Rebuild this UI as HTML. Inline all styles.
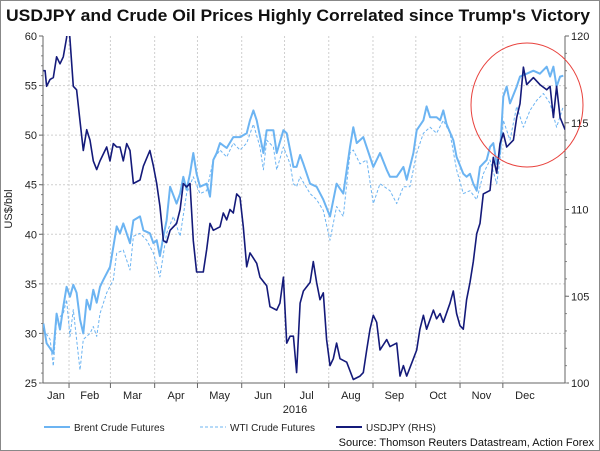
<!DOCTYPE html>
<html><head><meta charset="utf-8"><style>
body{margin:0;background:#fff;}
svg{display:block;font-family:"Liberation Sans",Arial,sans-serif;}
</style></head><body>
<svg width="600" height="451" viewBox="0 0 600 451">
<rect x="0.5" y="0.5" width="599" height="450" fill="#fff" stroke="#888"/>
<text x="6" y="21" font-size="17" font-weight="bold" fill="#111" textLength="584" lengthAdjust="spacingAndGlyphs">USDJPY and Crude Oil Prices Highly Correlated since Trump's Victory</text>
<g id="grid"></g>
<g id="axes"></g>
<defs><clipPath id="pc"><rect x="43" y="36" width="522" height="347"/></clipPath></defs>
<g id="series" clip-path="url(#pc)"></g>
<ellipse cx="527" cy="105" rx="56" ry="62" fill="none" stroke="#e8413c" stroke-width="1"/>
<text x="295" y="413" font-size="11" text-anchor="middle" fill="#222">2016</text>
<text transform="translate(12,209) rotate(-90)" font-size="11" text-anchor="middle" fill="#222">US$/bbl</text>
<g>
<g><line x1="44" y1="427" x2="70" y2="427" stroke="#6cb4f2" stroke-width="2"/><text x="74" y="431" font-size="10" fill="#222">Brent Crude Futures</text></g>
<g><line x1="200" y1="427" x2="226" y2="427" stroke="#6cb4f2" stroke-width="1" stroke-dasharray="3,2"/><text x="230" y="431" font-size="10" fill="#222">WTI Crude Futures</text></g>
<g><line x1="336" y1="427" x2="362" y2="427" stroke="#141a7a" stroke-width="2"/><text x="366" y="431" font-size="10" fill="#222">USDJPY (RHS)</text></g>
</g>
<text x="594" y="446" font-size="11" text-anchor="end" fill="#111">Source: Thomson Reuters Datastream, Action Forex</text>
</svg>
<script>
const months=["Jan","Feb","Mar","Apr","May","Jun","Jul","Aug","Sep","Oct","Nov","Dec"];
const monthStartDays=[0,31,60,91,121,152,182,213,244,274,305,335,366];
const leftTicks=[25,30,35,40,45,50,55,60];
const rightTicks=[100,105,110,115,120];
const brentDays=[13,15.3,17.7,20,22.3,24.7,27,29.3,31.7,34,36.3,38.7,41,43.4,45.7,48,50.4,52.7,55,59.7,64.4,66.7,69,73.7,76.1,80.7,83.1,87.7,90.1,92.4,94.7,97.1,99.4,101.8,106.4,108.8,111.1,113.4,115.8,118.1,120.4,122.8,127.5,129.8,132.1,134.5,136.8,141.5,146.1,150.8,155.5,157.8,160.2,162.5,167.2,169.5,174.2,176.5,181.2,183.5,185.9,188.2,190.5,192.9,195.2,199.9,204.5,209.2,213.9,218.5,223.2,227.9,230.2,232.6,237.2,241.9,244.2,248.9,253.6,255.9,260.6,265.3,267.6,272.3,274.6,279.3,281.6,284,288.6,291,293.3,295.6,300.3,302.6,307.3,309.6,312,314.3,316.7,319,323.7,326,328.3,330.7,333,335.3,337.7,340,344.7,347,351.7,356.4,361,365.7,368.1,370.4,372.7,375.1,377.4];
const brentVals=[31,29,28.5,28,32,30.4,32.7,34.7,33.7,34.9,34.1,31.4,30,33.4,32.4,34.4,33.1,34.7,35.4,36.7,40.8,40.1,41.1,39.1,41.4,41.8,40.4,40.1,39.1,39.4,37.8,39.8,41.4,44.8,43.1,44.1,45.8,44.5,46.1,48.2,46.1,44.8,45.1,43.8,47.5,48.2,49.2,48.7,49.8,49.8,50.2,51.5,52.5,51.5,48.2,50.5,50.5,48.2,50.5,50.2,48.5,46.8,46.8,48,47.1,45.1,44.8,43.5,41.8,45.1,44.1,48.8,50.8,49.2,49.8,47.8,46.8,48.2,46.5,45.8,45.8,46.8,45.5,48.2,50.5,51.5,52.9,51.8,51.8,51.5,52.5,51.1,49.5,47.8,46.1,45.8,46.1,45.1,44.4,46.8,47.5,48.8,49.2,47.1,48.2,53.9,54.9,53.2,54.9,55.9,56.2,56.5,56.2,56.9,55.9,56.9,54.9,55.9,56];
const wtiDays=[13,17.7,20,22.3,27,29.3,31.7,34,38.7,41,45.7,48,50.4,52.7,57.4,62,64.4,69,73.7,76.1,80.7,85.4,90.1,94.7,99.4,104.1,108.8,113.4,118.1,122.8,127.5,132.1,136.8,141.5,146.1,150.8,155.5,160.2,164.8,167.2,169.5,174.2,176.5,181.2,185.9,188.2,190.5,192.9,199.9,204.5,209.2,213.9,218.5,223.2,227.9,230.2,234.9,239.6,244.2,248.9,255.9,260.6,265.3,269.9,274.6,279.3,284,288.6,293.3,298,302.6,307.3,312,316.7,321.3,326,330.7,333,335.3,340,344.7,349.4,354,358.7,363.4,368.1,372.7,377.4];
const wtiVals=[30.4,29.4,26.7,31.4,32,33.4,29.7,32.4,26.3,29.4,30,30.7,29.7,32,34.1,35.4,38.1,38.4,36.4,39.8,40.1,39.4,38.1,35.7,40.1,41.8,39.8,44.1,45.8,44.1,44.4,47.5,48.5,47.8,49.2,48.5,49.2,51.1,48.8,46.5,49.5,48.8,46.5,48.8,47.1,45.1,44.8,45.8,44.1,43.5,42.4,39.4,42.8,41.8,48.2,48.5,47.1,47.5,43.1,45.1,44.4,43.1,44.8,44.8,48.2,50.2,50.8,50.2,51.5,50.2,46.5,44.1,44.4,43.5,46.1,47.5,45.1,47.5,51.5,49.5,52.9,50.8,52.5,53.5,54.2,53.2,50.8,52.9];
const jpyDays=[13,14.2,15.3,17.7,20,22.3,24.7,27,29.3,30.5,31.7,34,36.3,38.7,41,43.4,45.7,48,50.4,52.7,57.4,59.7,62,64.4,66.7,69,71.4,73.7,76.1,80.7,83.1,87.7,90.1,92.4,94.7,97.1,99.4,101.8,106.4,108.8,111.1,113.4,115.8,118.1,120.4,125.1,127.5,129.8,132.1,136.8,139.1,141.5,143.8,146.1,148.5,150.8,153.1,155.5,157.8,162.5,164.8,169.5,171.8,176.5,178.8,181.2,183.5,185.9,188.2,190.5,192.9,195.2,199.9,202.2,204.5,206.9,209.2,211.5,213.9,216.2,218.5,220.9,225.6,230.2,234.9,237.2,239.6,241.9,244.2,246.6,248.9,253.6,255.9,260.6,262.9,265.3,267.6,272.3,274.6,276.9,279.3,281.6,286.3,288.6,291,293.3,298,300.3,302.6,305,307.3,309.6,312,314.3,316.7,319,321.3,326,328.3,330.7,333,335.3,337.7,342.4,344.7,347,349.4,351.7,356.4,361,365.7,368.1,370.4,372.7,375.1,378.6];
const jpyVals=[118,118,117.1,117.5,117.6,118.8,118.4,118.8,119.9,121,119.8,117.1,116.9,115.1,113.4,114.6,114,112.8,112.3,112.8,113.6,112.8,113.8,113.6,113.6,112.8,113.8,113.4,111.5,111.7,112.5,113.4,112.5,111.5,110.2,108.2,108.1,108.8,109.2,110,111.5,111.3,111.5,108.2,106.4,106.4,107.7,109.2,108.8,109,109.8,109.4,110,109.8,110.9,110.7,109,106.7,107.5,106.9,106.1,105.6,104.4,104.2,104.6,106.1,102.3,102.7,102.7,100.6,104.6,105.3,105.8,107,105.8,104.8,105.2,102.5,101,101.4,102.3,101.4,101.2,100.2,100.4,100.6,101.9,103.1,103.9,103.5,101.9,102.5,102.1,102.3,100.4,101,100.4,101.4,101.9,103.1,103.9,103.1,104.2,103.7,104,103.5,104.6,105.3,104,103.3,103.1,104.8,105.8,107,108.6,109.2,110.9,111.1,113,112.1,113.8,114.4,113.6,114,115.3,116.1,118.2,117.2,117.6,117.2,116.9,117.1,115.3,117.1,115.3,114.6];

const X0=43,X1=565,Y0=383,Y1=36;
const xS=d=>24.8+1.427*d;
const yL=v=>Y0-(v-25)*(Y0-Y1)/35;
const yR=v=>Y0-(v-100)*(Y0-Y1)/20;
const NS="http://www.w3.org/2000/svg";
function mk(t,a,p){const e=document.createElementNS(NS,t);for(const k in a)e.setAttribute(k,a[k]);p.appendChild(e);return e;}
const grid=document.getElementById('grid'),axes=document.getElementById('axes'),ser=document.getElementById('series');
leftTicks.forEach(v=>{
  const y=yL(v);
  if(v>25&&v<60){const g=mk('line',{x1:X0,x2:X1,y1:y,y2:y,stroke:'#cfcfcf','stroke-dasharray':'2,2'},grid);
  
  }
  const t=mk('text',{x:X0-6,y:y+4,'font-size':11,'text-anchor':'end',fill:'#222'},axes);t.textContent=v;
  
  
  mk('line',{x1:X0-4,x2:X0,y1:y,y2:y,stroke:'#666'},axes);
});
for(let v=25;v<60;v+=1){const y=yL(v);mk('line',{x1:X0-2,x2:X0,y1:y,y2:y,stroke:'#888'},axes);}
rightTicks.forEach(v=>{
  const y=yR(v);
  const t=mk('text',{x:X1+6,y:y+4,'font-size':11,fill:'#222'},axes);t.textContent=v;
  
  
  mk('line',{x1:X1,x2:X1+4,y1:y,y2:y,stroke:'#666'},axes);
});
for(let v=100;v<120;v+=1){const y=yR(v);mk('line',{x1:X1,x2:X1+2,y1:y,y2:y,stroke:'#888'},axes);}
months.forEach((m,i)=>{
  const xa=xS(monthStartDays[i]),xb=xS(monthStartDays[i+1]);
  if(i>0){const g=mk('line',{x1:xa,x2:xa,y1:Y1,y2:Y0,stroke:'#cfcfcf','stroke-dasharray':'2,2'},grid);
  
  
  mk('line',{x1:xa,x2:xa,y1:Y0,y2:Y0+5,stroke:'#666'},axes);}
  const cx=(Math.max(xa,X0)+Math.min(xb,X1))/2;
  const t=mk('text',{x:cx,y:Y0+16,'font-size':11,'text-anchor':'middle',fill:'#222'},axes);t.textContent=m;
  
  
});
mk('line',{x1:X0,x2:X0,y1:Y1,y2:Y0,stroke:'#666'},axes);
mk('line',{x1:X1,x2:X1,y1:Y1,y2:Y0,stroke:'#666'},axes);
mk('line',{x1:X0,x2:X1,y1:Y0,y2:Y0,stroke:'#666'},axes);
function line(days,vals,ys,attrs,name){
  const d=days.map((t,i)=>(i?'L':'M')+xS(t).toFixed(1)+','+ys(vals[i]).toFixed(1)).join('');
  const p=mk('path',Object.assign({d:d,fill:'none','stroke-linejoin':'round'},attrs),ser);
  
  
}
line(wtiDays,wtiVals,yL,{stroke:'#6cb4f2','stroke-width':1,'stroke-dasharray':'3,2'},'wti-line');
line(brentDays,brentVals,yL,{stroke:'#6cb4f2','stroke-width':2},'brent-line');
line(jpyDays,jpyVals,yR,{stroke:'#141a7a','stroke-width':1.6},'usdjpy-line');
</script>
</body></html>
